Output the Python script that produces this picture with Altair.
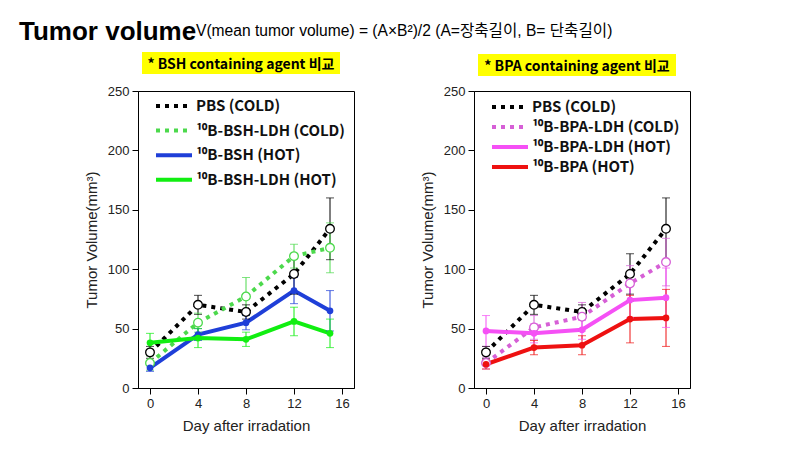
import altair as alt
import pandas as pd

days = [0, 4, 8, 12, 15]

# Left panel (BSH)
left_series = ["PBS (COLD)", "¹⁰B-BSH-LDH (COLD)", "¹⁰B-BSH (HOT)", "¹⁰B-BSH-LDH (HOT)"]
left_colors = ["#000000", "#4cd94c", "#1f3fd8", "#11ee11"]
left_dashed = [True, True, False, False]
left_filled = [False, False, True, True]
left_means = [
    [30, 70, 64, 96, 134],
    [21, 55, 77, 111, 118],
    [17, 45, 55, 82, 65],
    [38, 42, 41, 56, 46],
]
left_errs = [
    [5, 8, 6, 17, 26],
    [6, 8, 16, 10, 21],
    [3, 5, 6, 11, 17],
    [8, 8, 6, 12, 12],
]

# Right panel (BPA)
right_series = ["PBS (COLD)", "¹⁰B-BPA-LDH (COLD)", "¹⁰B-BPA-LDH (HOT)", "¹⁰B-BPA (HOT)"]
right_colors = ["#000000", "#d65fd6", "#f550f5", "#ee1111"]
right_dashed = [True, True, False, False]
right_filled = [False, False, True, True]
right_means = [
    [30, 70, 64, 96, 134],
    [21, 51, 60, 88, 106],
    [48, 46, 49, 74, 76],
    [20, 34, 36, 58, 59],
]
right_errs = [
    [5, 8, 6, 17, 26],
    [5, 10, 12, 15, 20],
    [13, 8, 8, 15, 25],
    [4, 6, 8, 20, 24],
]

y_ticks = [0, 25, 50, 75, 100, 125, 150, 175, 200, 225, 250]
x_ticks = [0, 2, 4, 6, 8, 10, 12, 14, 16]

FONT = "Liberation Sans"
KFONT = "Noto Sans CJK KR"
MIXFONT = "Liberation Sans, Noto Sans CJK KR"
DASH = [4, 5]


def make_df(series, colors, dashed, filled, means, errs):
    rows = []
    for s, c, dd, f, m, e in zip(series, colors, dashed, filled, means, errs):
        for d, v, er in zip(days, m, e):
            rows.append({"series": s, "hex": c, "dashed": dd, "filled": f, "day": d,
                         "vol": v, "lo": v - er, "hi": v + er})
    return pd.DataFrame(rows)


def tick_size(step):
    return {"condition": {"test": f"datum.value % {step} == 0", "value": 6}, "value": 3}


def panel(series, colors, dashed, filled, means, errs, panel_title, header, rect_x, rect_y,
          leg_y0, leg_step):
    df = make_df(series, colors, dashed, filled, means, errs)
    base = alt.Chart(df)
    xscale = alt.Scale(domain=[-1, 17], nice=False, zero=False)
    xenc = alt.X("day:Q", scale=xscale,
                 axis=alt.Axis(values=x_ticks, labelExpr="datum.value % 4 == 0 ? datum.label : ''",
                               title="Day after irradation", grid=False, tickSize=tick_size(4),
                               labelFontSize=13, titleFontSize=15, labelFont=FONT, titleFont=FONT,
                               titleFontWeight="normal", labelColor="#222", titleColor="#222",
                               domainColor="#000", tickColor="#000", titlePadding=8, labelPadding=3))
    yscale = alt.Scale(domain=[0, 250], nice=False)
    yenc = alt.Y("vol:Q", scale=yscale,
                 axis=alt.Axis(values=y_ticks, labelExpr="datum.value % 50 == 0 ? datum.label : ''",
                               title="Tumor Volume(mm³)", grid=False, tickSize=tick_size(50),
                               labelFontSize=13, titleFontSize=15, labelFont=FONT, titleFont=FONT,
                               titleFontWeight="normal", labelColor="#222", titleColor="#222",
                               domainColor="#000", tickColor="#000", titlePadding=8, labelPadding=3))

    col = alt.Color("hex:N", scale=None)
    dash_lines = base.transform_filter("datum.dashed").mark_line(
        strokeWidth=4, strokeDash=DASH).encode(x=xenc, y=yenc, color=col, detail="series:N")
    solid_lines = base.transform_filter("!datum.dashed").mark_line(
        strokeWidth=4).encode(x=alt.X("day:Q", scale=xscale), y=alt.Y("vol:Q", scale=yscale),
                              color=col, detail="series:N")
    rules = base.mark_rule(strokeWidth=1).encode(
        x="day:Q", y=alt.Y("lo:Q", scale=yscale), y2="hi:Q", color=col)
    cap_lo = base.mark_tick(orient="horizontal", size=8, thickness=1).encode(
        x="day:Q", y=alt.Y("lo:Q", scale=yscale), color=col)
    cap_hi = base.mark_tick(orient="horizontal", size=8, thickness=1).encode(
        x="day:Q", y=alt.Y("hi:Q", scale=yscale), color=col)
    open_pts = base.transform_filter("!datum.filled").mark_point(
        shape="circle", size=75, strokeWidth=1.3, filled=True, fill="white", opacity=1).encode(
        x="day:Q", y=alt.Y("vol:Q", scale=yscale), stroke=alt.Stroke("hex:N", scale=None))
    fill_pts = base.transform_filter("datum.filled").mark_point(
        shape="circle", size=45, filled=True, opacity=1).encode(
        x="day:Q", y=alt.Y("vol:Q", scale=yscale), color=col)

    # Manual legend
    ldf = pd.DataFrame({"series": series, "hex": colors, "dashed": dashed})
    lbase = alt.Chart(ldf).transform_window(row="row_number()").transform_calculate(
        ly=f"{leg_y0} + (datum.row - 1) * {leg_step}")
    leg_dash = lbase.transform_filter("datum.dashed").mark_rule(
        strokeWidth=4, strokeDash=DASH).encode(
        x=alt.value(18), x2=alt.value(54), y=alt.Y("ly:Q", scale=None), color=col)
    leg_solid = lbase.transform_filter("!datum.dashed").mark_rule(strokeWidth=4).encode(
        x=alt.value(18), x2=alt.value(54), y=alt.Y("ly:Q", scale=None), color=col)
    leg_text = lbase.mark_text(font=KFONT, fontSize=15, fontWeight="bold", color="#111",
                               align="left", baseline="middle").encode(
        x=alt.value(58), y=alt.Y("ly:Q", scale=None), text="series:N")

    tdf = pd.DataFrame({"t": [panel_title]})
    hl = alt.Chart(tdf).mark_rect(color="#ffff00").encode(
        x=alt.value(rect_x), x2=alt.value(rect_x + 198),
        y=alt.value(rect_y), y2=alt.value(rect_y + 22))
    ttl = alt.Chart(tdf).mark_text(font=KFONT, fontSize=14, fontWeight="bold", color="#000",
                                   align="center", baseline="alphabetic").encode(
        x=alt.value(rect_x + 99), y=alt.value(rect_y + 17), text="t:N")
    layers = [hl, ttl, dash_lines, solid_lines, rules, cap_lo, cap_hi, open_pts, fill_pts,
              leg_dash, leg_solid, leg_text]
    if header:
        h1 = alt.Chart(pd.DataFrame({"t": ["Tumor volume"]})).mark_text(
            font=FONT, fontSize=26, fontWeight="bold", color="#000", align="left",
            baseline="alphabetic").encode(
            x=alt.value(-119), y=alt.value(-51), text="t:N")
        h2 = alt.Chart(pd.DataFrame({"t": ["V(mean tumor volume) = (A×B²)/2 (A=장축길이, B= 단축길이)"]})).mark_text(
            font=MIXFONT, fontSize=15.6, fontWeight="normal", color="#000", align="left",
            baseline="alphabetic").encode(
            x=alt.value(58), y=alt.value(-55), text="t:N")
        layers += [h1, h2]
    return alt.layer(*layers).properties(width=216, height=297)


left = panel(left_series, left_colors, left_dashed, left_filled, left_means, left_errs,
             "* BSH containing agent 비교", True, 4, -39, 15, 24.6)
right = panel(right_series, right_colors, right_dashed, right_filled, right_means, right_errs,
              "* BPA containing agent 비교", False, 4, -37, 16, 20)

chart = alt.hconcat(left, right, spacing=120, bounds="flush").configure_view(
    stroke="#000", strokeWidth=1).properties(
    padding={"left": 10, "top": 10, "right": 5, "bottom": 5}, background="white")

chart.save("out.html", embed_options={"renderer": "svg", "actions": False})
